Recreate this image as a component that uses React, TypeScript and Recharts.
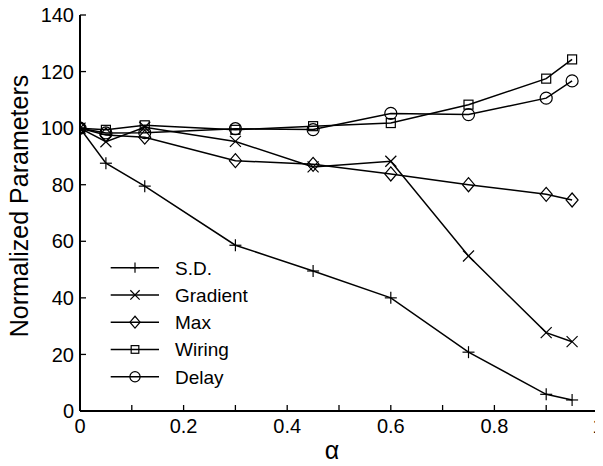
import React from 'react';
import { LineChart, Line, XAxis, YAxis, Legend } from 'recharts';

const alpha = [0, 0.05, 0.125, 0.3, 0.45, 0.6, 0.75, 0.9, 0.95];
const sdValues = [100, 87.6, 79.5, 58.6, 49.5, 40.0, 20.8, 5.9, 3.9];
const gradientValues = [100, 95.2, 100.3, 95.3, 86.3, 88.3, 54.8, 27.7, 24.5];
const maxValues = [100, 97.6, 96.8, 88.5, 87.2, 83.8, 80.0, 76.6, 74.6];
const wiringValues = [100, 99.4, 101.0, 99.4, 100.7, 101.8, 108.3, 117.5, 124.3];
const delayValues = [100, 98.3, 98.4, 99.8, 99.5, 105.2, 104.8, 110.6, 116.7];

const xTicks = [0, 0.1, 0.2, 0.3, 0.4, 0.5, 0.6, 0.7, 0.8, 0.9, 1];
const xTickLabels = ['0', '', '0.2', '', '0.4', '', '0.6', '', '0.8', '', '1'];
const yTicks = [0, 20, 40, 60, 80, 100, 120, 140];
const yTickLabels = ['0', '20', '40', '60', '80', '100', '120', '140'];

const seriesNames = ['S.D.', 'Gradient', 'Max', 'Wiring', 'Delay'];
const seriesKeys = ['sd', 'gradient', 'max', 'wiring', 'delay'];
const seriesMarkers = ['plus', 'cross', 'diamond', 'square', 'circle'];

const data = alpha.map((a, i) => ({
  alpha: a,
  sd: sdValues[i],
  gradient: gradientValues[i],
  max: maxValues[i],
  wiring: wiringValues[i],
  delay: delayValues[i],
}));

const FONT = '"Liberation Sans", Arial, Helvetica, sans-serif';
const TICK_LEN = 6;

function Marker({ type, cx, cy, small }: { type: string; cx: number; cy: number; small?: boolean }) {
  const s = { stroke: '#000', strokeWidth: 1.2, fill: 'none' } as const;
  const k = small ? 0.85 : 1;
  if (type === 'plus') {
    return (
      <g>
        <line x1={cx - 6 * k} y1={cy} x2={cx + 6 * k} y2={cy} {...s} />
        <line x1={cx} y1={cy - 6 * k} x2={cx} y2={cy + 6 * k} {...s} />
      </g>
    );
  }
  if (type === 'cross') {
    return (
      <g>
        <line x1={cx - 5.5 * k} y1={cy - 5.5 * k} x2={cx + 5.5 * k} y2={cy + 5.5 * k} {...s} />
        <line x1={cx - 5.5 * k} y1={cy + 5.5 * k} x2={cx + 5.5 * k} y2={cy - 5.5 * k} {...s} />
      </g>
    );
  }
  if (type === 'diamond') {
    return (
      <polygon
        points={`${cx},${cy - 7 * k} ${cx + 6 * k},${cy} ${cx},${cy + 7 * k} ${cx - 6 * k},${cy}`}
        {...s}
      />
    );
  }
  if (type === 'square') {
    return <rect x={cx - 4.5 * k} y={cy - 4.5 * k} width={9 * k} height={9 * k} {...s} />;
  }
  return <circle cx={cx} cy={cy} r={6 * k} {...s} />;
}

const makeDot = (type: string) => (props: any) => {
  const { cx, cy, index } = props;
  if (cx == null || cy == null) return <g key={`d-${type}-${index}`} />;
  return (
    <g key={`d-${type}-${index}`}>
      <Marker type={type} cx={cx} cy={cy} />
    </g>
  );
};

const BottomTick = (props: any) => {
  const { x, y, payload } = props;
  const idx = xTicks.indexOf(payload.value);
  const label = idx >= 0 ? xTickLabels[idx] : '';
  return (
    <g>
      <line x1={x} y1={y} x2={x} y2={y - TICK_LEN} stroke="#000" strokeWidth={1.3} />
      {label !== '' && (
        <text x={x} y={y + 21.5} textAnchor="middle" fontSize={20} fontFamily={FONT} fill="#000">
          {label}
        </text>
      )}
    </g>
  );
};

const TopTick = (props: any) => {
  const { x, y } = props;
  return <line x1={x} y1={y} x2={x} y2={y + TICK_LEN} stroke="#000" strokeWidth={1.3} />;
};

const LeftTick = (props: any) => {
  const { x, y, payload } = props;
  const idx = yTicks.indexOf(payload.value);
  const label = idx >= 0 ? yTickLabels[idx] : '';
  return (
    <g>
      <line x1={x} y1={y} x2={x + TICK_LEN} y2={y} stroke="#000" strokeWidth={1.3} />
      <text x={x - 6} y={y} dy="0.36em" textAnchor="end" fontSize={20} fontFamily={FONT} fill="#000">
        {label}
      </text>
    </g>
  );
};

const RightTick = (props: any) => {
  const { x, y } = props;
  return <line x1={x} y1={y} x2={x - TICK_LEN} y2={y} stroke="#000" strokeWidth={1.3} />;
};

const renderLegend = () => (
  <svg width={160} height={150} style={{ overflow: 'visible', display: 'block' }}>
    {seriesNames.map((name, i) => {
      const cy = 14.7 + i * 27.25;
      return (
        <g key={name}>
          <line x1={2.7} y1={cy} x2={51} y2={cy} stroke="#000" strokeWidth={1.5} />
          <Marker type={seriesMarkers[i]} cx={27} cy={cy} small />
          <text x={67} y={cy} dy="0.36em" fontSize={19} fontFamily={FONT} fill="#000">
            {name}
          </text>
        </g>
      );
    })}
  </svg>
);

const axisLineStyle = { stroke: '#000', strokeWidth: 2 };

export default function App() {
  return (
    <div style={{ width: 603, height: 466, background: '#fff', margin: '-8px 0 0 -8px' }}>
      <LineChart
        width={603}
        height={466}
        data={data}
        margin={{ top: 15, right: 5, bottom: 0, left: 0 }}
        style={{ fontFamily: FONT }}
      >
        <XAxis
          xAxisId="bottom"
          dataKey="alpha"
          type="number"
          domain={[0, 1]}
          ticks={xTicks}
          interval={0}
          height={55}
          tickSize={0}
          tickMargin={0}
          tickLine={false}
          axisLine={axisLineStyle}
          tick={<BottomTick />}
          allowDataOverflow
          label={{
            content: () => (
              <text x={332} y={459} textAnchor="middle" fontSize={25} fontFamily={FONT} fill="#000">
                α
              </text>
            ),
          }}
        />
        <XAxis
          xAxisId="top"
          dataKey="alpha"
          type="number"
          orientation="top"
          domain={[0, 1]}
          ticks={xTicks}
          interval={0}
          height={0}
          tickSize={0}
          tickMargin={0}
          tickLine={false}
          axisLine={axisLineStyle}
          tick={<TopTick />}
          allowDataOverflow
        />
        <YAxis
          yAxisId="left"
          type="number"
          domain={[0, 140]}
          ticks={yTicks}
          interval={0}
          width={80}
          tickSize={0}
          tickMargin={0}
          tickLine={false}
          axisLine={axisLineStyle}
          tick={<LeftTick />}
          allowDataOverflow
          label={{
            content: () => (
              <text
                x={19}
                y={206}
                dy="0.36em"
                transform="rotate(-90 19 206)"
                textAnchor="middle"
                fontSize={25}
                fontFamily={FONT}
                fill="#000"
              >
                Normalized Parameters
              </text>
            ),
          }}
        />
        <YAxis
          yAxisId="right"
          type="number"
          orientation="right"
          domain={[0, 140]}
          ticks={yTicks}
          interval={0}
          width={0}
          tickSize={0}
          tickMargin={0}
          tickLine={false}
          axisLine={axisLineStyle}
          tick={<RightTick />}
          allowDataOverflow
        />
        <Line
          xAxisId="top"
          yAxisId="right"
          dataKey="sd"
          stroke="none"
          dot={false}
          activeDot={false}
          legendType="none"
          isAnimationActive={false}
        />
        {seriesKeys.map((k, i) => (
          <Line
            key={k}
            xAxisId="bottom"
            yAxisId="left"
            dataKey={k}
            name={seriesNames[i]}
            type="linear"
            stroke="#000"
            strokeWidth={1.5}
            dot={makeDot(seriesMarkers[i])}
            activeDot={false}
            isAnimationActive={false}
          />
        ))}
        <Legend
          layout="horizontal"
          verticalAlign="middle"
          align="center"
          content={renderLegend}
          wrapperStyle={{ left: 108, top: 253, width: 160, height: 150 }}
        />
      </LineChart>
    </div>
  );
}
